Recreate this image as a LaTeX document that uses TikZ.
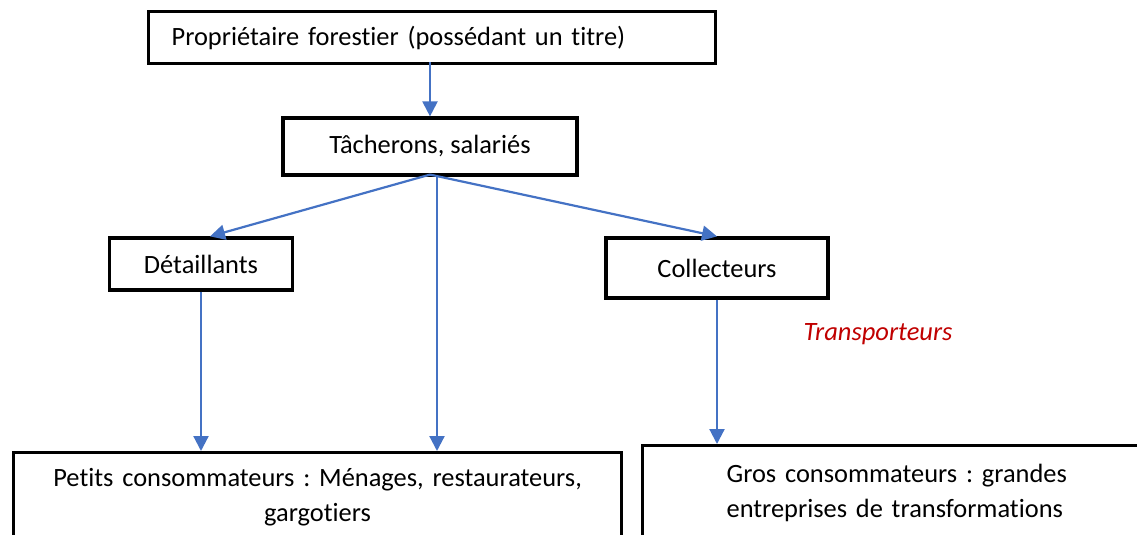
\documentclass[tikz,border=0pt]{standalone}
\usepackage{fontspec}
\setmainfont{Carlito}[Ligatures=NoCommon]
\usetikzlibrary{arrows.meta,calc}
\definecolor{arrowblue}{HTML}{4472C4}
\definecolor{darkred}{HTML}{C00000}
\frenchspacing
\begin{document}
\begin{tikzpicture}[x=1pt,y=-1pt,
  box/.style={draw=black, line width=3.2pt, fill=white, inner sep=0pt,
    font=\fontsize{26.4}{35}\selectfont},
  flow/.style={draw=arrowblue, line width=2.2pt,
    -{Triangle[length=15pt,width=15pt]}},
  note/.style={text=darkred, font=\fontsize{26.5}{32}\selectfont\itshape}]
  \useasboundingbox (0,0) rectangle (1137,535);
  \clip (0,0) rectangle (1137,535);

  % owner at the top
  \node[box, anchor=north west, minimum width=567, minimum height=52,
        text width=521, inner xsep=23, align=left] (owner) at (147,10)
        {Propriétaire forestier (possédant un titre)};
  % workers
  \node[box, minimum width=294, minimum height=57] (tach) at (430,146.5)
        {Tâcherons, salariés};
  % intermediaries
  \node[box, minimum width=183, minimum height=52] (det) at (201,264)
        {Détaillants};
  \node[box, minimum width=222, minimum height=60] (col) at (717,268)
        {Collecteurs};
  \node[note] (trans) at (878,334) {Transporteurs};
  % consumers
  \node[box, anchor=north west, minimum width=608, minimum height=90,
        text width=600, align=center] (small) at (12,451)
        {Petits consommateurs : Ménages, restaurateurs,\\ gargotiers};
  \node[box, anchor=north west, minimum width=520, minimum height=95,
        text width=436, inner xsep=84, align=left] (big) at (641,444)
        {Gros consommateurs : grandes\\ entreprises de transformations};

  % flows
  \draw[flow] ([yshift=3pt]tach.north |- owner.south) -- (tach.north);
  \draw[flow] ([yshift=2pt]tach.south) -- ([xshift=9pt]det.north);
  \draw[flow] ([yshift=2pt]tach.south) -- (col.north);
  \draw[flow] ([xshift=7pt,yshift=2pt]tach.south) -- ([xshift=7pt]tach.south |- small.north);
  \draw[flow] (det.south) -- (det.south |- small.north);
  \draw[flow] (col.south) -- (col.south |- big.north);
\end{tikzpicture}
\end{document}
